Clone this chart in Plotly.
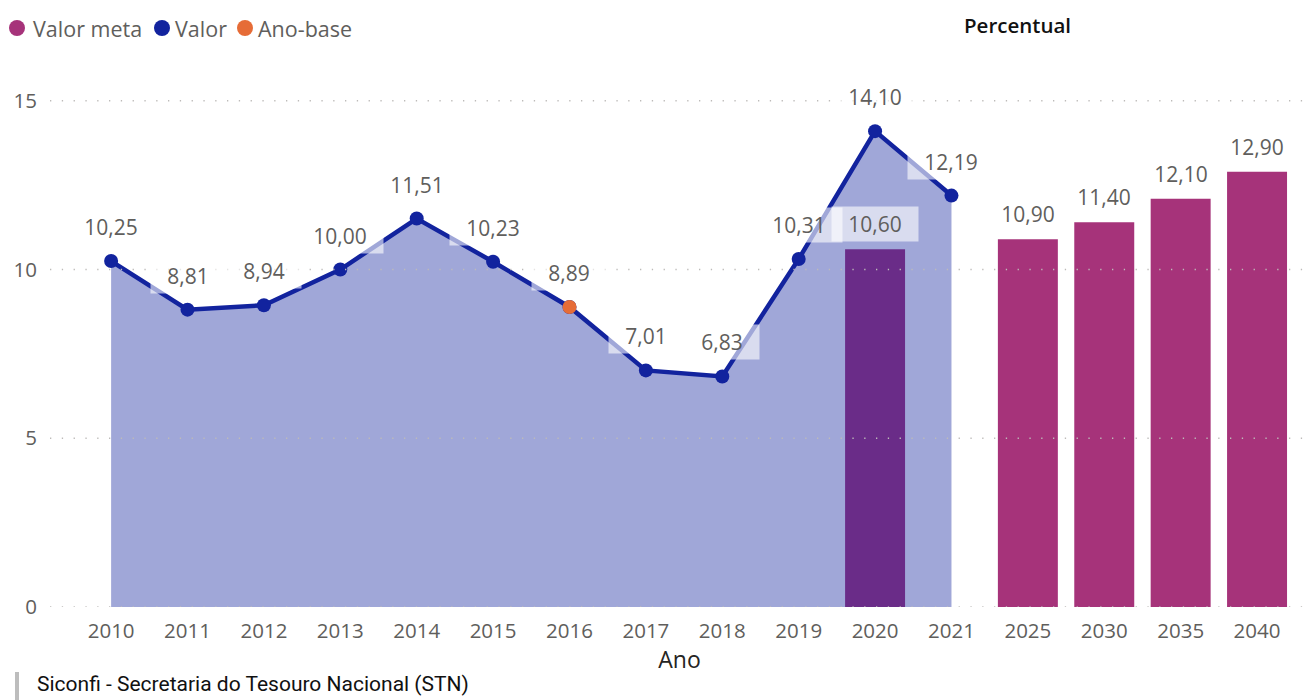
import plotly.graph_objects as go

# ---------------- data ----------------
categories = ["2010", "2011", "2012", "2013", "2014", "2015", "2016", "2017",
              "2018", "2019", "2020", "2021", "2025", "2030", "2035", "2040"]
valor_years = ["2010", "2011", "2012", "2013", "2014", "2015", "2016", "2017",
               "2018", "2019", "2020", "2021"]
valor = [10.25, 8.81, 8.94, 10.00, 11.51, 10.23, 8.89, 7.01, 6.83, 10.31, 14.10, 12.19]
meta_years = ["2020", "2025", "2030", "2035", "2040"]
meta = [10.60, 10.90, 11.40, 12.10, 12.90]
base_years = ["2016"]
base_values = [8.89]
y_ticks = [0, 5, 10, 15]
legend_labels = ["Valor meta", "Valor", "Ano-base"]

# ---------------- style ----------------
C_META = "#A6337A"
C_VALOR = "#12239E"
C_BASE = "#E66C37"
C_AREA = "rgba(18,35,158,0.40)"
C_TEXT = "#605E5C"
FONT = "Open Sans"

W, H = 1309, 700
ML, MR, MT, MB = 50, 0, 67, 93
PW, PH = W - ML - MR, H - MT - MB


def px_x(x):
    return (x - ML) / PW


def px_y(y):
    return (H - MB - y) / PH


def fmt(v):
    return f"{v:.2f}".replace(".", ",")


def cat_idx(c):
    return categories.index(c)


fig = go.Figure()

fig.add_trace(go.Bar(
    x=meta_years, y=meta, name=legend_labels[0],
    marker=dict(color=C_META, line=dict(width=0)),
    showlegend=False, hoverinfo="x+y",
))

fig.add_trace(go.Scatter(
    x=valor_years, y=valor, name=legend_labels[1], mode="lines+markers",
    fill="tozeroy", fillcolor=C_AREA,
    line=dict(color=C_VALOR, width=4.5),
    marker=dict(color=C_VALOR, size=14),
    showlegend=False,
))

fig.add_trace(go.Scatter(
    x=base_years, y=base_values, name=legend_labels[2], mode="markers",
    marker=dict(color=C_BASE, size=14),
    showlegend=False,
))

shapes = []
# dotted gridlines drawn above the traces
for t in y_ticks:
    shapes.append(dict(
        type="line", xref="paper", yref="y", x0=0, x1=1, y0=t, y1=t,
        line=dict(color="#BDBBB9", width=1.3, dash="1.3px,10.5px"), layer="above",
    ))

annotations = []


def label(x, v, shift):
    txt = fmt(v)
    return dict(
        x=cat_idx(x), y=v, xref="x", yref="y", text=txt, showarrow=False,
        yshift=shift, font=dict(family=FONT, size=21, color=C_TEXT),
        bgcolor="rgba(255,255,255,0.6)", borderpad=0,
        width=12 * len(txt) + 26, height=34,
    )


for x, v in zip(valor_years, valor):
    annotations.append(label(x, v, 34))
for x, v in zip(meta_years, meta):
    annotations.append(label(x, v, 25))

# legend built from circles + text
legend_cols = [C_META, C_VALOR, C_BASE]
legend_circle_x = [17, 162, 245]
legend_text_x = [31, 173, 256]
for lab, col, cx, tx in zip(legend_labels, legend_cols, legend_circle_x, legend_text_x):
    shapes.append(dict(
        type="circle", xref="paper", yref="paper",
        x0=px_x(cx - 8), x1=px_x(cx + 8), y0=px_y(28 + 8), y1=px_y(28 - 8),
        fillcolor=col, line=dict(width=0),
    ))
    annotations.append(dict(
        x=px_x(tx), y=px_y(28), xref="paper", yref="paper", text=lab,
        showarrow=False, xanchor="left", yanchor="middle",
        font=dict(family=FONT, size=21.5, color=C_TEXT),
    ))

annotations.append(dict(
    x=px_x(962), y=px_y(25), xref="paper", yref="paper", text="Percentual",
    showarrow=False, xanchor="left", yanchor="middle",
    font=dict(family=FONT, size=20.5, color="#111111", weight=600),
))
annotations.append(dict(
    x=px_x(35), y=px_y(684), xref="paper", yref="paper",
    text="Siconfi - Secretaria do Tesouro Nacional (STN)",
    showarrow=False, xanchor="left", yanchor="middle",
    font=dict(family="Roboto", size=21, color="#111111", weight=400),
))
shapes.append(dict(
    type="rect", xref="paper", yref="paper",
    x0=px_x(15), x1=px_x(19), y0=px_y(700), y1=px_y(672),
    fillcolor="#BDBDBD", line=dict(width=0),
))

fig.update_layout(
    width=W, height=H,
    margin=dict(l=ML, r=MR, t=MT, b=MB, pad=0),
    paper_bgcolor="white", plot_bgcolor="white",
    bargap=0.215,
    showlegend=False,
    annotations=annotations,
    shapes=shapes,
    xaxis=dict(
        type="category", categoryorder="array", categoryarray=categories,
        range=[-0.8, 15.68], showgrid=False, zeroline=False, showline=False,
        ticks="", tickfont=dict(family=FONT, size=20.5, color=C_TEXT),
        ticklabelstandoff=9,
        title=dict(text="Ano", font=dict(family=FONT, size=23, color="#252423"), standoff=9),
    ),
    yaxis=dict(
        range=[0, 16], tickvals=y_ticks, ticktext=[str(t) for t in y_ticks],
        showgrid=False, zeroline=False, showline=False, ticks="",
        tickfont=dict(family=FONT, size=20.5, color=C_TEXT),
        ticklabelstandoff=12,
    ),
)

fig.write_html(
    "out.html",
    config={"displayModeBar": False},
    post_script="document.body.style.margin='0';document.body.style.overflow='hidden';",
)
